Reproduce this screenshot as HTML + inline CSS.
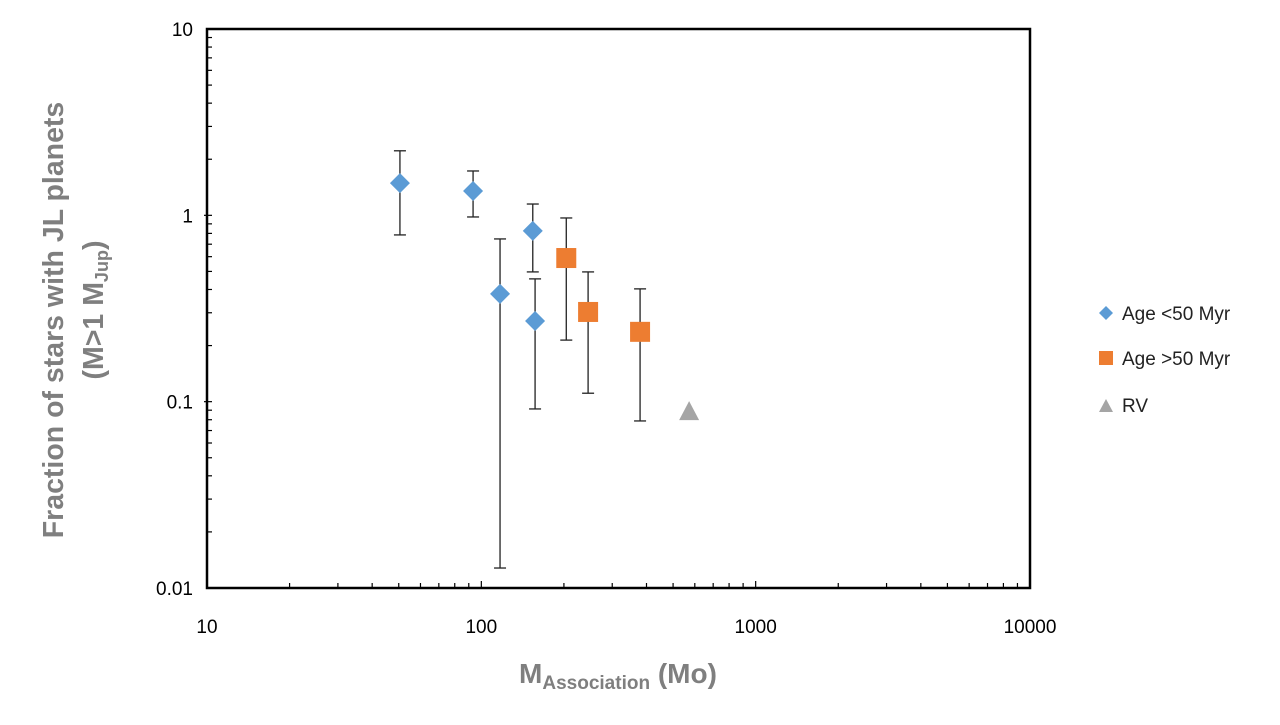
<!DOCTYPE html>
<html><head><meta charset="utf-8"><style>
body{margin:0;background:#fff;width:1280px;height:720px;overflow:hidden}
svg{font-family:"Liberation Sans",sans-serif}
</style></head><body>
<svg id="c" width="1280" height="720"></svg>
<script>
const blueX=[50.5,93.3,154,117,157];
const blueY=[1.49,1.35,0.825,0.379,0.271];
const blueLo=[0.785,0.98,0.497,0.0128,0.0914];
const blueHi=[2.22,1.73,1.15,0.747,0.456];
const orangeX=[204,245,379];
const orangeY=[0.59,0.303,0.237];
const orangeLo=[0.214,0.111,0.0788];
const orangeHi=[0.968,0.497,0.403];
const rvX=[572];
const rvY=[0.089];
const xTicks=[10,100,1000,10000];
const xTickLabels=["10","100","1000","10000"];
const yTicks=[0.01,0.1,1,10];
const yTickLabels=["0.01","0.1","1","10"];
const L=207,R=1030,T=29,B=588;
const sx=v=>L+(Math.log10(v)-1)/3*(R-L);
const sy=v=>B-(Math.log10(v)+2)/3*(B-T);
const s=document.getElementById('c');const NS='http://www.w3.org/2000/svg';
function mk(t,a,txt){const e=document.createElementNS(NS,t);for(const k in a)e.setAttribute(k,a[k]);if(txt!=null)e.textContent=txt;s.appendChild(e);return e;}
let e=mk('rect',{x:L,y:T,width:R-L,height:B-T,fill:'none',stroke:'#000','stroke-width':2.5});


for(let d=10;d<=1000;d*=10)for(let m=2;m<=10;m++){const x=sx(d*m);
if(x>=R-1)continue;
e=mk('line',{x1:x,x2:x,y1:B,y2:B-(m===10?7:5),stroke:'#000','stroke-width':1.2});

}
for(let d=0.01;d<=1.5;d*=10)for(let m=2;m<=10;m++){const y=sy(d*m);
if(y<=T+1)continue;
e=mk('line',{x1:L-(m===10?3:0),x2:L+5,y1:y,y2:y,stroke:'#000','stroke-width':1.2});

}
xTicks.forEach((v,i)=>{e=mk('text',{x:sx(v),y:B+45,'text-anchor':'middle','font-size':19,fill:'#000'},xTickLabels[i]);

});
yTicks.forEach((v,i)=>{e=mk('text',{x:L-14,y:sy(v)+7,'text-anchor':'end','font-size':19,fill:'#000'},yTickLabels[i]);

});
function err(x,lo,hi){const px=sx(x);
e=mk('line',{x1:px,x2:px,y1:sy(lo),y2:sy(hi),stroke:'#222','stroke-width':1.3});


[lo,hi].forEach(v=>{e=mk('line',{x1:px-6,x2:px+6,y1:sy(v),y2:sy(v),stroke:'#222','stroke-width':1.3});

});}
blueX.forEach((v,i)=>err(v,blueLo[i],blueHi[i]));
orangeX.forEach((v,i)=>err(v,orangeLo[i],orangeHi[i]));
blueX.forEach((v,i)=>{const x=sx(v),y=sy(blueY[i]);
e=mk('polygon',{points:`${x},${y-10} ${x+10},${y} ${x},${y+10} ${x-10},${y}`,fill:'#5B9BD5'});

});
orangeX.forEach((v,i)=>{const x=sx(v),y=sy(orangeY[i]);
e=mk('rect',{x:x-10,y:y-10,width:20,height:20,fill:'#ED7D31'});

});
rvX.forEach((v,i)=>{const x=sx(v),y=sy(rvY[i]);
e=mk('polygon',{points:`${x},${y-10} ${x+10},${y+9} ${x-10},${y+9}`,fill:'#A5A5A5'});

});
// legend
e=mk('polygon',{points:'1106,306 1113,313 1106,320 1099,313',fill:'#5B9BD5'});
e=mk('text',{x:1122,y:320,'font-size':19,fill:'#222'},'Age <50 Myr');
e=mk('rect',{x:1099,y:351,width:14,height:14,fill:'#ED7D31'});
e=mk('text',{x:1122,y:365,'font-size':19,fill:'#222'},'Age >50 Myr');
e=mk('polygon',{points:'1106,399 1113,412 1099,412',fill:'#A5A5A5'});
e=mk('text',{x:1122,y:412,'font-size':19,fill:'#222'},'RV');
// titles
e=mk('text',{x:618,y:683,'text-anchor':'middle','font-size':28,'font-weight':'bold',fill:'#7F7F7F'});
e.innerHTML='M<tspan font-size="19" dy="6">Association</tspan><tspan dy="-6"> (Mo)</tspan>';

e=mk('g',{transform:'translate(63,320) rotate(-90)'});

const t1=document.createElementNS(NS,'text');t1.setAttribute('text-anchor','middle');t1.setAttribute('font-size','28.5');t1.setAttribute('font-weight','bold');t1.setAttribute('fill','#7F7F7F');t1.setAttribute('y','0');t1.textContent='Fraction of stars with JL planets';e.appendChild(t1);
const t2=document.createElementNS(NS,'text');t2.setAttribute('text-anchor','middle');t2.setAttribute('font-size','28.5');t2.setAttribute('font-weight','bold');t2.setAttribute('fill','#7F7F7F');t2.setAttribute('y','40');t2.setAttribute('x','10');t2.innerHTML='(M&gt;1 M<tspan font-size="18" dy="5">Jup</tspan><tspan dy="-5">)</tspan>';e.appendChild(t2);
</script>
</body></html>
